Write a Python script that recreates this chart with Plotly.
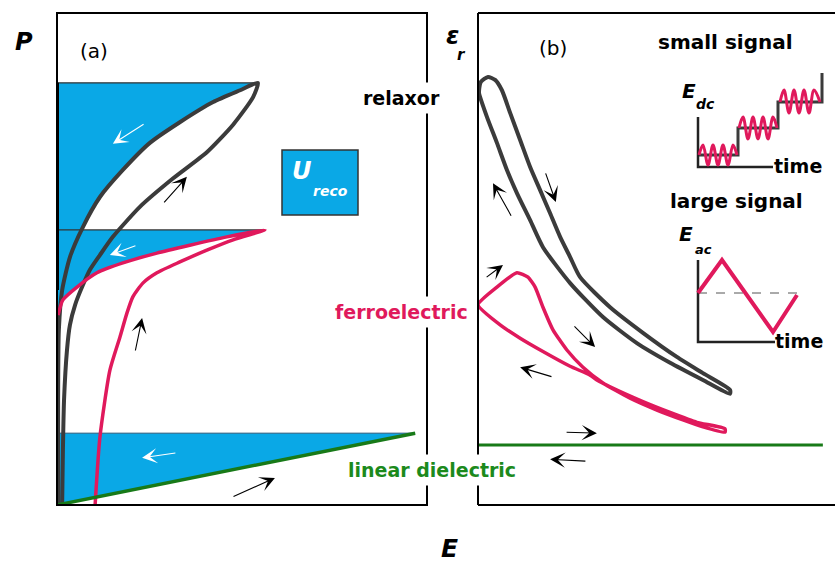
import plotly.graph_objects as go

W, H = 835, 563

# ---------------- data (schematic, arbitrary units = % of full scale) ----------------
# Panel (a): P-E loops
relaxor_a_charge_E = [1.4, 1.6, 1.9, 2.7, 3.5, 4.9, 7.0, 8.9, 11.6, 15.1, 22.4, 31.4, 40.5, 47.6, 53.0, 54.3]
relaxor_a_charge_P = [0.4, 11.2, 21.3, 31.5, 36.6, 40.7, 44.7, 47.8, 50.8, 54.5, 60.6, 66.4, 71.7, 77.3, 82.9, 85.8]
relaxor_a_discharge_E = [54.3, 49.5, 42.2, 33.2, 25.1, 17.8, 11.6, 7.0, 3.5, 1.4, 0.5, 0.3, 0.3]
relaxor_a_discharge_P = [85.8, 84.3, 81.9, 77.8, 73.6, 68.1, 62.6, 56.5, 50.4, 43.7, 35.6, 21.3, 0.0]

ferro_a_charge_E = [10.3, 11.6, 14.3, 17.0, 18.9, 20.5, 23.2, 27.0, 33.2, 40.5, 47.6, 56.2]
ferro_a_charge_P = [0.0, 13.8, 27.4, 34.1, 39.0, 42.3, 45.1, 47.2, 49.4, 51.8, 53.9, 55.9]
ferro_a_discharge_E = [56.2, 45.9, 35.9, 27.0, 17.8, 10.8, 5.4, 1.6, 0.3]
ferro_a_discharge_P = [55.9, 54.5, 52.8, 51.2, 49.2, 47.2, 44.3, 41.7, 38.6]

linear_a_E = [0.0, 96.8]
linear_a_P = [0.0, 14.6]

# Panel (b): eps_r - E curves
relaxor_b_up_E = [0.3, 0.8, 2.8, 4.8, 6.7, 9.0, 11.8, 14.6, 17.4, 20.2, 23.0, 25.8, 28.6, 37.0, 46.2, 55.7, 63.0, 70.6]
relaxor_b_up_eps = [84.3, 86.0, 87.0, 86.4, 84.3, 79.7, 74.2, 68.7, 64.0, 59.3, 54.5, 50.4, 46.3, 40.2, 35.0, 30.1, 26.8, 23.4]
relaxor_b_down_E = [70.6, 63.0, 53.8, 44.5, 35.0, 25.8, 18.2, 14.6, 10.9, 8.1, 5.3, 2.5, 0.3]
relaxor_b_down_eps = [22.6, 25.4, 28.9, 32.9, 38.2, 45.1, 52.4, 57.9, 63.4, 68.1, 73.6, 78.9, 83.7]

ferro_b_up_E = [0.0, 5.3, 10.9, 14.0, 16.0, 18.2, 21.0, 24.9, 29.4, 35.0, 42.6, 50.1, 57.4, 63.0, 69.2]
ferro_b_up_eps = [40.7, 44.3, 47.2, 46.3, 44.3, 40.2, 35.6, 31.5, 28.0, 24.8, 21.7, 19.3, 17.3, 15.9, 14.8]
ferro_b_down_E = [69.2, 61.3, 53.8, 46.2, 37.0, 33.3, 31.4, 25.8, 18.2, 11.8, 6.2, 0.0]
ferro_b_down_eps = [15.5, 16.8, 18.8, 21.0, 24.0, 25.4, 26.4, 28.2, 31.2, 33.9, 36.6, 40.7]

linear_b_E = [0.0, 96.6]
linear_b_eps = [12.2, 12.2]

# Direction arrows (tail -> head)
arrows_a_tail_E = [23.8, 28.6, 21.6, 21.1, 32.4, 47.3]
arrows_a_tail_P = [77.6, 61.2, 52.8, 31.1, 10.6, 1.6]
arrows_a_head_E = [15.1, 35.1, 14.3, 23.0, 23.0, 58.9]
arrows_a_head_P = [73.4, 66.7, 50.8, 38.0, 9.6, 5.5]
arrows_a_color = ["white", "black", "white", "black", "white", "black"]

arrows_b_tail_E = [18.8, 9.5, 2.0, 26.6, 21.0, 24.4, 30.5]
arrows_b_tail_eps = [67.7, 58.5, 46.1, 36.6, 26.0, 14.8, 8.9]
arrows_b_head_E = [21.8, 4.2, 7.0, 32.8, 11.8, 33.3, 20.2]
arrows_b_head_eps = [61.6, 65.4, 48.8, 32.1, 28.0, 14.6, 9.3]

# Inset: small signal (time, E_dc)
ss_axis_t = [0.0, 0.0, 7.5]
ss_axis_e = [5.0, 0.0, 0.0]
ss_step_t = [0.0, 4.0, 4.0, 8.0, 8.0, 12.4, 12.4]
ss_step_e = [1.2, 1.2, 3.9, 3.9, 6.5, 6.5, 9.4]
ss_wave1_t = [0.1, 0.5, 1.0, 1.5, 2.0, 2.5, 3.0, 3.5, 3.9]
ss_wave1_e = [1.2, 2.2, 0.2, 2.2, 0.2, 2.2, 0.2, 2.2, 1.2]
ss_wave2_t = [4.1, 4.5, 5.0, 5.5, 6.0, 6.5, 7.0, 7.5, 7.9]
ss_wave2_e = [3.9, 5.0, 2.8, 5.0, 2.8, 5.0, 2.8, 5.0, 3.9]
ss_wave3_t = [8.2, 8.6, 9.1, 9.6, 10.1, 10.6, 11.1, 11.6, 12.2]
ss_wave3_e = [6.5, 7.7, 5.4, 7.7, 5.4, 7.7, 5.4, 7.7, 6.5]

# Inset: large signal (time, E_ac)
ls_axis_t = [0.0, 0.0, 7.7]
ls_axis_e = [8.2, 0.0, 0.0]
ls_tri_t = [0.0, 2.4, 7.5, 9.9]
ls_tri_e = [4.9, 8.2, 1.0, 4.7]
ls_dash_t = [0.0, 9.9]
ls_dash_e = [4.9, 4.9]

# ---------------- styles ----------------
BLUE = "#0AA8E6"
CRIMSON = "#E0195C"
GREEN = "#187A18"
GREEN_TXT = "#1C8A1C"
GRAY = "#3B3B3B"
FONT = "DejaVu Sans"


def px(x):
    return x / W


def py(y):
    return 1 - y / H


fig = go.Figure()


def line(x, y, color, width, xa="x", ya="y", shape="spline", dash=None, smoothing=0.6):
    fig.add_trace(go.Scatter(x=x, y=y, mode="lines", xaxis=xa, yaxis=ya, hoverinfo="skip",
                             line=dict(color=color, width=width, shape=shape, dash=dash,
                                       smoothing=smoothing)))


def fill(x, y, color, xa="x", ya="y"):
    fig.add_trace(go.Scatter(x=x, y=y, mode="lines", fill="toself", fillcolor=color,
                             line=dict(width=0, color=color), xaxis=xa, yaxis=ya, hoverinfo="skip"))


# ---- panel (a) energy-storage areas ----
fill([0.0] + relaxor_a_discharge_E[:10] + [0.0],
     [relaxor_a_discharge_P[0]] + relaxor_a_discharge_P[:10] + [relaxor_a_discharge_P[9] - 3],
     BLUE)
fill([0.0] + ferro_a_discharge_E, [ferro_a_discharge_P[0]] + ferro_a_discharge_P, BLUE)
fill([0.0, linear_a_E[1], 0.0], [linear_a_P[1], linear_a_P[1], 0.0], BLUE)

line([0.0, relaxor_a_discharge_E[0]], [relaxor_a_discharge_P[0]] * 2, "#333333", 1.2, shape="linear")
line([0.0, ferro_a_discharge_E[0]], [ferro_a_discharge_P[0]] * 2, "#333333", 1.2, shape="linear")
line([0.0, linear_a_E[1]], [linear_a_P[1]] * 2, "#2a5a7a", 1.0, shape="linear")

# ---- panel (a) curves ----
line(relaxor_a_charge_E + relaxor_a_discharge_E[1:], relaxor_a_charge_P + relaxor_a_discharge_P[1:], GRAY, 4)
line(ferro_a_charge_E + ferro_a_discharge_E[1:], ferro_a_charge_P + ferro_a_discharge_P[1:], CRIMSON, 3.5)
line(linear_a_E, linear_a_P, GREEN, 3.5, shape="linear")

# ---- panel (b) curves ----
line(relaxor_b_up_E + relaxor_b_down_E + relaxor_b_up_E[:1],
     relaxor_b_up_eps + relaxor_b_down_eps + relaxor_b_up_eps[:1], GRAY, 4, xa="x2", ya="y2", smoothing=0.6)
line(ferro_b_up_E + ferro_b_down_E, ferro_b_up_eps + ferro_b_down_eps, CRIMSON, 3.5, xa="x2", ya="y2",
     smoothing=0.5)
line(linear_b_E, linear_b_eps, GREEN, 3, xa="x2", ya="y2", shape="linear")

# ---- insets ----
line(ss_step_t, ss_step_e, GRAY, 3, xa="x3", ya="y3", shape="linear")
line(ss_axis_t, ss_axis_e, "#222222", 2.5, xa="x3", ya="y3", shape="linear")
for wt, we in [(ss_wave1_t, ss_wave1_e), (ss_wave2_t, ss_wave2_e), (ss_wave3_t, ss_wave3_e)]:
    line(wt, we, CRIMSON, 3, xa="x3", ya="y3", smoothing=1.0)

line(ls_dash_t, ls_dash_e, "#555555", 1, xa="x4", ya="y4", shape="linear", dash="dash")
line(ls_axis_t, ls_axis_e, "#222222", 2.5, xa="x4", ya="y4", shape="linear")
line(ls_tri_t, ls_tri_e, CRIMSON, 4, xa="x4", ya="y4", shape="linear")

# ---------------- frames ----------------
shapes = [
    dict(type="rect", xref="paper", yref="paper", x0=px(57), x1=px(427), y0=py(505), y1=py(13),
         line=dict(color="black", width=2), layer="above"),
    dict(type="line", xref="paper", yref="paper", x0=px(478), x1=1.01, y0=py(13), y1=py(13),
         line=dict(color="black", width=2), layer="above"),
    dict(type="line", xref="paper", yref="paper", x0=px(478), x1=px(478), y0=py(13), y1=py(505),
         line=dict(color="black", width=2), layer="above"),
    dict(type="line", xref="paper", yref="paper", x0=px(478), x1=1.01, y0=py(505), y1=py(505),
         line=dict(color="black", width=2), layer="above"),
    # thick left edge of the relaxor energy area
    dict(type="line", xref="x", yref="y", x0=0, x1=0, y0=relaxor_a_discharge_P[9],
         y1=relaxor_a_discharge_P[0], line=dict(color="black", width=4), layer="above"),
    # U_reco legend box
    dict(type="rect", xref="paper", yref="paper", x0=px(282), x1=px(358), y0=py(215), y1=py(150),
         fillcolor=BLUE, line=dict(color="#333333", width=1.5), layer="above"),
]

ann = []


def text(x, y, s, size, color="black", bg=None, pad=1):
    d = dict(x=px(x), y=py(y), xref="paper", yref="paper", text=s, showarrow=False,
             font=dict(family=FONT, size=size, color=color), xanchor="center", yanchor="middle")
    if bg:
        d.update(bgcolor=bg, borderpad=pad)
    ann.append(d)


text(24, 42, "<b><i>P</i></b>", 24)
text(94, 51, "(a)", 20)
text(553, 48, "(b)", 20)
text(452, 36, "<b><i>ε</i></b>", 24)
text(461, 55, "<b><i>r</i></b>", 15)
text(449, 548, "<b><i>E</i></b>", 25)
text(401, 98, "<b>relaxor</b>", 19, bg="white", pad=4)
text(401, 312, "<b>ferroelectric</b>", 19, color=CRIMSON, bg="white", pad=4)
text(432, 470, "<b>linear dielectric</b>", 19, color=GREEN_TXT, bg="white", pad=4)
text(302, 171, "<b><i>U</i></b>", 24, color="white")
text(330, 191, "<b><i>reco</i></b>", 14, color="white")
text(725, 42, "<b>small signal</b>", 20)
text(689, 91, "<b><i>E</i></b>", 20)
text(705, 104, "<b><i>dc</i></b>", 14)
text(798, 166, "<b>time</b>", 19)
text(736, 201, "<b>large signal</b>", 20)
text(686, 234, "<b><i>E</i></b>", 20)
text(703, 249, "<b><i>ac</i></b>", 13)
text(799, 341, "<b>time</b>", 19)

for te, tp, he, hp, c in zip(arrows_a_tail_E, arrows_a_tail_P, arrows_a_head_E, arrows_a_head_P, arrows_a_color):
    ann.append(dict(x=he, y=hp, ax=te, ay=tp, xref="x", yref="y", axref="x", ayref="y", text="",
                    showarrow=True, arrowhead=3, arrowsize=2.3, arrowwidth=1.1, arrowcolor=c))
for te, tp, he, hp in zip(arrows_b_tail_E, arrows_b_tail_eps, arrows_b_head_E, arrows_b_head_eps):
    ann.append(dict(x=he, y=hp, ax=te, ay=tp, xref="x2", yref="y2", axref="x2", ayref="y2", text="",
                    showarrow=True, arrowhead=3, arrowsize=2.3, arrowwidth=1.1, arrowcolor="black"))

ax_common = dict(visible=False, fixedrange=True, showgrid=False, zeroline=False)
fig.update_layout(
    width=W, height=H, margin=dict(l=0, r=0, t=0, b=0),
    paper_bgcolor="white", plot_bgcolor="rgba(0,0,0,0)", showlegend=False,
    xaxis=dict(domain=[px(57), px(427)], range=[0, 100], anchor="y", **ax_common),
    yaxis=dict(domain=[py(505), py(13)], range=[0, 100], anchor="x", **ax_common),
    xaxis2=dict(domain=[px(478), 1.0], range=[0, 100], anchor="y2", **ax_common),
    yaxis2=dict(domain=[py(505), py(13)], range=[0, 100], anchor="x2", **ax_common),
    xaxis3=dict(domain=[px(693), 1.0], range=[-0.5, 13.7], anchor="y3", **ax_common),
    yaxis3=dict(domain=[py(172), py(60)], range=[-0.5, 10.7], anchor="x3", **ax_common),
    xaxis4=dict(domain=[px(693), 1.0], range=[-0.5, 13.7], anchor="y4", **ax_common),
    yaxis4=dict(domain=[py(347), py(250)], range=[-0.5, 9.2], anchor="x4", **ax_common),
    shapes=shapes, annotations=ann,
)

fig.write_html("out.html")
